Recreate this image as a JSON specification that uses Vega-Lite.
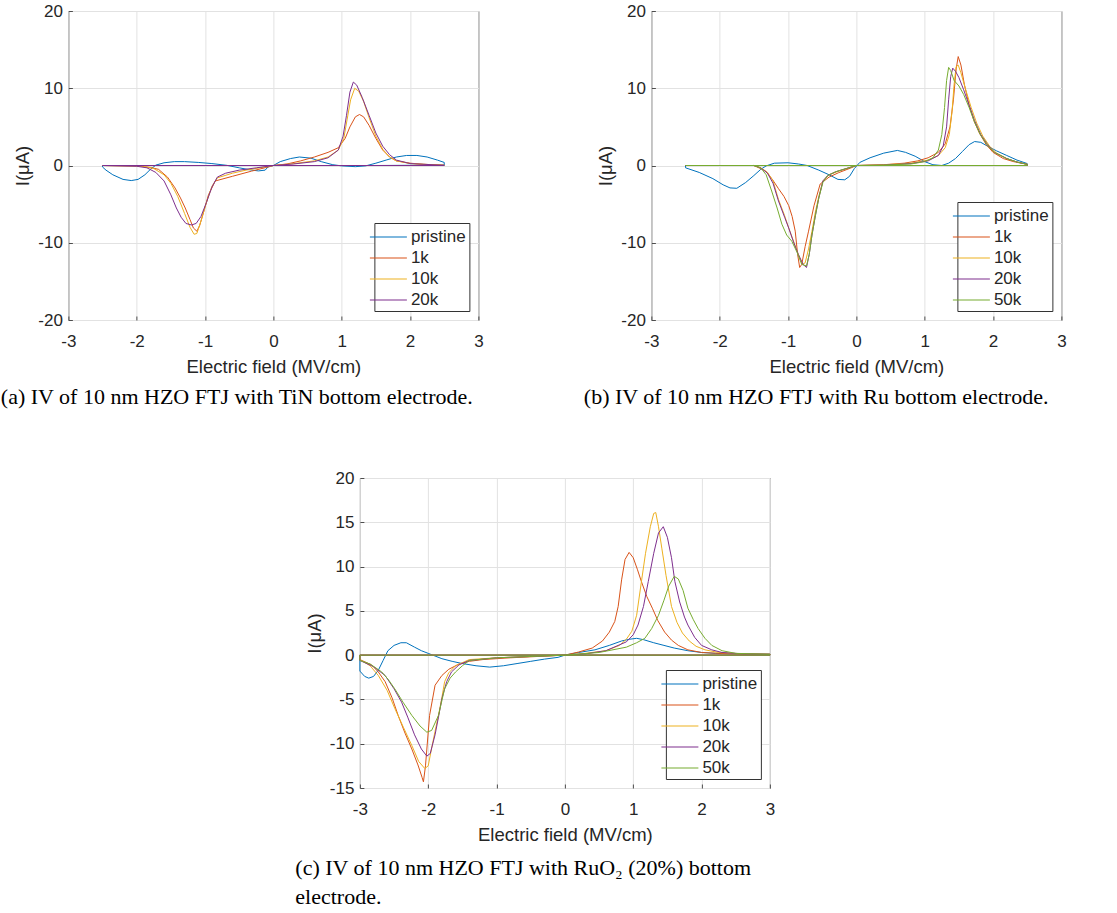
{
  "$schema": "https://vega.github.io/schema/vega-lite/v6.json",
  "background": "white",
  "padding": {"left": 0, "top": 1, "right": 0, "bottom": 0},
  "config": {
    "font": "Liberation Sans",
    "view": {"stroke": "#4d4d4d", "strokeWidth": 1},
    "axis": {
      "labelFont": "Liberation Sans", "labelFontSize": 17, "labelColor": "#262626",
      "titleFont": "Liberation Sans", "titleFontSize": 18.5, "titleFontWeight": "normal", "titleColor": "#262626",
      "gridColor": "#e2e2e2", "gridWidth": 1, "domain": false,
      "tickColor": "#4d4d4d", "tickSize": -4, "labelFlush": false, "labelOverlap": false,
      "labelExpr": "toString(datum.value)"
    },
    "axisX": {"labelPadding": 17, "titlePadding": 8},
    "axisY": {"labelPadding": 10, "titlePadding": 5},
    "legend": {
      "orient": "bottom-right", "offset": 9, "symbolType": "M-1.85,0H1.85", "symbolSize": 400,
      "symbolStrokeWidth": 1.2, "labelFont": "Liberation Sans", "labelFontSize": 17, "labelColor": "#262626",
      "strokeColor": "#333333", "fillColor": "white", "padding": 3, "rowPadding": 2, "labelOffset": 11.5
    },
    "title": {"font": "Liberation Serif", "fontSize": 22, "fontWeight": "normal", "color": "#000000",
      "orient": "bottom", "anchor": "start", "frame": "bounds", "offset": 11, "dx": -13, "lineHeight": 29}
  },
  "datasets": {
    "a": [
      {"s":"pristine","x":-2.5,"y":-0.2},{"s":"pristine","x":-2.45,"y":-0.6},{"s":"pristine","x":-2.35,"y":-1.2},{"s":"pristine","x":-2.2,"y":-1.8},{"s":"pristine","x":-2.08,"y":-1.95},{"s":"pristine","x":-1.98,"y":-1.8},{"s":"pristine","x":-1.88,"y":-1.2},{"s":"pristine","x":-1.8,"y":-0.5},{"s":"pristine","x":-1.72,"y":0.05},{"s":"pristine","x":-1.6,"y":0.35},{"s":"pristine","x":-1.45,"y":0.5},{"s":"pristine","x":-1.3,"y":0.5},{"s":"pristine","x":-1.1,"y":0.4},{"s":"pristine","x":-0.9,"y":0.25},{"s":"pristine","x":-0.68,"y":0.02},{"s":"pristine","x":-0.5,"y":-0.3},{"s":"pristine","x":-0.35,"y":-0.55},{"s":"pristine","x":-0.22,"y":-0.7},{"s":"pristine","x":-0.12,"y":-0.6},{"s":"pristine","x":-0.08,"y":-0.2},{"s":"pristine","x":0,"y":0},{"s":"pristine","x":0.1,"y":0.5},{"s":"pristine","x":0.25,"y":0.9},{"s":"pristine","x":0.38,"y":1.1},{"s":"pristine","x":0.55,"y":0.95},{"s":"pristine","x":0.7,"y":0.5},{"s":"pristine","x":0.87,"y":0.1},{"s":"pristine","x":1.0,"y":-0.05},{"s":"pristine","x":1.2,"y":-0.15},{"s":"pristine","x":1.35,"y":-0.05},{"s":"pristine","x":1.5,"y":0.3},{"s":"pristine","x":1.65,"y":0.7},{"s":"pristine","x":1.8,"y":1.1},{"s":"pristine","x":1.95,"y":1.3},{"s":"pristine","x":2.1,"y":1.3},{"s":"pristine","x":2.25,"y":1.1},{"s":"pristine","x":2.4,"y":0.7},{"s":"pristine","x":2.5,"y":0.4},{"s":"pristine","x":2.5,"y":0.05},{"s":"pristine","x":1.5,"y":0},{"s":"pristine","x":0,"y":0},{"s":"pristine","x":-2.5,"y":0},{"s":"pristine","x":-2.5,"y":-0.2},

      {"s":"1k","x":0,"y":0},{"s":"1k","x":0.2,"y":0.2},{"s":"1k","x":0.4,"y":0.6},{"s":"1k","x":0.6,"y":1.1},{"s":"1k","x":0.8,"y":1.7},{"s":"1k","x":0.95,"y":2.3},{"s":"1k","x":1.05,"y":3.5},{"s":"1k","x":1.12,"y":5.0},{"s":"1k","x":1.2,"y":6.3},{"s":"1k","x":1.26,"y":6.6},{"s":"1k","x":1.32,"y":6.3},{"s":"1k","x":1.4,"y":5.2},{"s":"1k","x":1.5,"y":3.5},{"s":"1k","x":1.6,"y":2.0},{"s":"1k","x":1.7,"y":1.1},{"s":"1k","x":1.8,"y":0.6},{"s":"1k","x":2.0,"y":0.3},{"s":"1k","x":2.2,"y":0.15},{"s":"1k","x":2.5,"y":0.05},{"s":"1k","x":2.5,"y":0},{"s":"1k","x":-2.5,"y":0},{"s":"1k","x":-2.0,"y":-0.05},{"s":"1k","x":-1.8,"y":-0.25},{"s":"1k","x":-1.68,"y":-0.5},{"s":"1k","x":-1.55,"y":-1.5},{"s":"1k","x":-1.44,"y":-2.9},{"s":"1k","x":-1.36,"y":-4.2},{"s":"1k","x":-1.29,"y":-5.5},{"s":"1k","x":-1.22,"y":-7.0},{"s":"1k","x":-1.17,"y":-8.1},{"s":"1k","x":-1.12,"y":-8.5},{"s":"1k","x":-1.08,"y":-7.8},{"s":"1k","x":-1.03,"y":-6.3},{"s":"1k","x":-0.95,"y":-3.8},{"s":"1k","x":-0.85,"y":-2.0},{"s":"1k","x":-0.6,"y":-1.4},{"s":"1k","x":-0.32,"y":-0.73},{"s":"1k","x":-0.07,"y":-0.17},{"s":"1k","x":0,"y":0},

      {"s":"10k","x":0,"y":0},{"s":"10k","x":0.3,"y":0.25},{"s":"10k","x":0.6,"y":0.6},{"s":"10k","x":0.8,"y":1.1},{"s":"10k","x":0.95,"y":2.0},{"s":"10k","x":1.03,"y":3.5},{"s":"10k","x":1.08,"y":6.0},{"s":"10k","x":1.13,"y":8.5},{"s":"10k","x":1.19,"y":10.0},{"s":"10k","x":1.25,"y":9.6},{"s":"10k","x":1.32,"y":8.3},{"s":"10k","x":1.4,"y":6.2},{"s":"10k","x":1.5,"y":3.8},{"s":"10k","x":1.6,"y":2.1},{"s":"10k","x":1.7,"y":1.1},{"s":"10k","x":1.8,"y":0.6},{"s":"10k","x":2.0,"y":0.25},{"s":"10k","x":2.5,"y":0.02},{"s":"10k","x":2.5,"y":0},{"s":"10k","x":-2.5,"y":0},{"s":"10k","x":-1.9,"y":-0.1},{"s":"10k","x":-1.75,"y":-0.4},{"s":"10k","x":-1.6,"y":-1.2},{"s":"10k","x":-1.5,"y":-2.3},{"s":"10k","x":-1.4,"y":-4.0},{"s":"10k","x":-1.3,"y":-6.2},{"s":"10k","x":-1.22,"y":-8.0},{"s":"10k","x":-1.16,"y":-8.9},{"s":"10k","x":-1.12,"y":-8.8},{"s":"10k","x":-1.06,"y":-7.2},{"s":"10k","x":-0.98,"y":-4.8},{"s":"10k","x":-0.9,"y":-2.7},{"s":"10k","x":-0.82,"y":-1.6},{"s":"10k","x":-0.6,"y":-1.0},{"s":"10k","x":-0.4,"y":-0.6},{"s":"10k","x":-0.2,"y":-0.3},{"s":"10k","x":0,"y":0},

      {"s":"20k","x":0,"y":0},{"s":"20k","x":0.3,"y":0.2},{"s":"20k","x":0.6,"y":0.5},{"s":"20k","x":0.8,"y":1.0},{"s":"20k","x":0.95,"y":2.0},{"s":"20k","x":1.02,"y":3.8},{"s":"20k","x":1.07,"y":6.5},{"s":"20k","x":1.12,"y":9.5},{"s":"20k","x":1.17,"y":10.8},{"s":"20k","x":1.22,"y":10.4},{"s":"20k","x":1.3,"y":8.8},{"s":"20k","x":1.4,"y":6.5},{"s":"20k","x":1.5,"y":4.2},{"s":"20k","x":1.6,"y":2.5},{"s":"20k","x":1.7,"y":1.4},{"s":"20k","x":1.8,"y":0.7},{"s":"20k","x":2.0,"y":0.25},{"s":"20k","x":2.5,"y":0.02},{"s":"20k","x":2.5,"y":0},{"s":"20k","x":-2.5,"y":0},{"s":"20k","x":-2.0,"y":-0.1},{"s":"20k","x":-1.85,"y":-0.3},{"s":"20k","x":-1.72,"y":-0.9},{"s":"20k","x":-1.6,"y":-2.0},{"s":"20k","x":-1.5,"y":-3.8},{"s":"20k","x":-1.42,"y":-5.5},{"s":"20k","x":-1.35,"y":-6.7},{"s":"20k","x":-1.28,"y":-7.5},{"s":"20k","x":-1.2,"y":-7.7},{"s":"20k","x":-1.13,"y":-7.5},{"s":"20k","x":-1.06,"y":-6.6},{"s":"20k","x":-0.98,"y":-4.8},{"s":"20k","x":-0.9,"y":-2.8},{"s":"20k","x":-0.82,"y":-1.5},{"s":"20k","x":-0.7,"y":-1.0},{"s":"20k","x":-0.5,"y":-0.6},{"s":"20k","x":-0.25,"y":-0.3},{"s":"20k","x":0,"y":0}
    ],
    "b": [
      {"s":"pristine","x":-2.5,"y":-0.3},{"s":"pristine","x":-2.3,"y":-0.9},{"s":"pristine","x":-2.1,"y":-1.7},{"s":"pristine","x":-1.95,"y":-2.5},{"s":"pristine","x":-1.85,"y":-2.9},{"s":"pristine","x":-1.75,"y":-2.95},{"s":"pristine","x":-1.62,"y":-2.2},{"s":"pristine","x":-1.5,"y":-1.3},{"s":"pristine","x":-1.4,"y":-0.5},{"s":"pristine","x":-1.32,"y":-0.05},{"s":"pristine","x":-1.2,"y":0.3},{"s":"pristine","x":-1.0,"y":0.35},{"s":"pristine","x":-0.85,"y":0.2},{"s":"pristine","x":-0.72,"y":0},{"s":"pristine","x":-0.55,"y":-0.6},{"s":"pristine","x":-0.4,"y":-1.2},{"s":"pristine","x":-0.27,"y":-1.8},{"s":"pristine","x":-0.17,"y":-1.85},{"s":"pristine","x":-0.1,"y":-1.4},{"s":"pristine","x":-0.03,"y":-0.4},{"s":"pristine","x":0.05,"y":0.4},{"s":"pristine","x":0.2,"y":1.0},{"s":"pristine","x":0.4,"y":1.6},{"s":"pristine","x":0.6,"y":1.95},{"s":"pristine","x":0.72,"y":1.7},{"s":"pristine","x":0.86,"y":1.2},{"s":"pristine","x":1.0,"y":0.5},{"s":"pristine","x":1.12,"y":0.1},{"s":"pristine","x":1.25,"y":0.0},{"s":"pristine","x":1.35,"y":0.3},{"s":"pristine","x":1.45,"y":0.9},{"s":"pristine","x":1.55,"y":1.8},{"s":"pristine","x":1.65,"y":2.7},{"s":"pristine","x":1.73,"y":3.1},{"s":"pristine","x":1.82,"y":3.0},{"s":"pristine","x":1.92,"y":2.5},{"s":"pristine","x":2.05,"y":1.9},{"s":"pristine","x":2.2,"y":1.3},{"s":"pristine","x":2.35,"y":0.7},{"s":"pristine","x":2.5,"y":0.25},{"s":"pristine","x":2.5,"y":0},{"s":"pristine","x":-2.5,"y":0},{"s":"pristine","x":-2.5,"y":-0.3},

      {"s":"1k","x":0,"y":0},{"s":"1k","x":0.4,"y":0.1},{"s":"1k","x":0.7,"y":0.3},{"s":"1k","x":0.9,"y":0.6},{"s":"1k","x":1.05,"y":1.0},{"s":"1k","x":1.2,"y":1.7},{"s":"1k","x":1.3,"y":2.8},{"s":"1k","x":1.37,"y":5.0},{"s":"1k","x":1.42,"y":8.5},{"s":"1k","x":1.46,"y":12.5},{"s":"1k","x":1.49,"y":14.1},{"s":"1k","x":1.53,"y":13.0},{"s":"1k","x":1.58,"y":10.5},{"s":"1k","x":1.65,"y":7.8},{"s":"1k","x":1.72,"y":5.8},{"s":"1k","x":1.8,"y":4.2},{"s":"1k","x":1.9,"y":2.7},{"s":"1k","x":2.0,"y":1.7},{"s":"1k","x":2.15,"y":0.9},{"s":"1k","x":2.3,"y":0.5},{"s":"1k","x":2.5,"y":0.15},{"s":"1k","x":2.5,"y":0},{"s":"1k","x":-2.5,"y":0},{"s":"1k","x":-1.5,"y":0},{"s":"1k","x":-1.33,"y":-0.7},{"s":"1k","x":-1.23,"y":-1.8},{"s":"1k","x":-1.14,"y":-3.0},{"s":"1k","x":-1.06,"y":-4.0},{"s":"1k","x":-0.99,"y":-5.2},{"s":"1k","x":-0.94,"y":-6.6},{"s":"1k","x":-0.895,"y":-8.5},{"s":"1k","x":-0.86,"y":-11.5},{"s":"1k","x":-0.83,"y":-13.2},{"s":"1k","x":-0.8,"y":-12.8},{"s":"1k","x":-0.75,"y":-10.5},{"s":"1k","x":-0.7,"y":-8.5},{"s":"1k","x":-0.62,"y":-5.2},{"s":"1k","x":-0.53,"y":-2.4},{"s":"1k","x":-0.4,"y":-1.5},{"s":"1k","x":-0.26,"y":-0.93},{"s":"1k","x":-0.07,"y":-0.28},{"s":"1k","x":0,"y":0},

      {"s":"10k","x":0,"y":0},{"s":"10k","x":0.4,"y":0.08},{"s":"10k","x":0.8,"y":0.3},{"s":"10k","x":1.05,"y":0.7},{"s":"10k","x":1.2,"y":1.3},{"s":"10k","x":1.3,"y":2.3},{"s":"10k","x":1.36,"y":4.0},{"s":"10k","x":1.4,"y":7.0},{"s":"10k","x":1.43,"y":10.5},{"s":"10k","x":1.46,"y":12.8},{"s":"10k","x":1.49,"y":13.0},{"s":"10k","x":1.53,"y":12.0},{"s":"10k","x":1.6,"y":9.8},{"s":"10k","x":1.68,"y":7.5},{"s":"10k","x":1.76,"y":5.5},{"s":"10k","x":1.85,"y":3.8},{"s":"10k","x":1.95,"y":2.5},{"s":"10k","x":2.05,"y":1.6},{"s":"10k","x":2.2,"y":0.9},{"s":"10k","x":2.35,"y":0.45},{"s":"10k","x":2.5,"y":0.15},{"s":"10k","x":2.5,"y":0},{"s":"10k","x":-2.5,"y":0},{"s":"10k","x":-1.5,"y":0},{"s":"10k","x":-1.4,"y":-0.3},{"s":"10k","x":-1.3,"y":-0.9},{"s":"10k","x":-1.22,"y":-2.0},{"s":"10k","x":-1.14,"y":-4.4},{"s":"10k","x":-1.05,"y":-6.5},{"s":"10k","x":-0.99,"y":-8.1},{"s":"10k","x":-0.92,"y":-9.8},{"s":"10k","x":-0.85,"y":-11.5},{"s":"10k","x":-0.79,"y":-12.8},{"s":"10k","x":-0.75,"y":-12.6},{"s":"10k","x":-0.7,"y":-10.8},{"s":"10k","x":-0.65,"y":-8.5},{"s":"10k","x":-0.6,"y":-6.0},{"s":"10k","x":-0.55,"y":-4.0},{"s":"10k","x":-0.49,"y":-2.0},{"s":"10k","x":-0.4,"y":-1.2},{"s":"10k","x":-0.25,"y":-0.7},{"s":"10k","x":0,"y":0},

      {"s":"20k","x":0,"y":0},{"s":"20k","x":0.4,"y":0.05},{"s":"20k","x":0.8,"y":0.25},{"s":"20k","x":1.05,"y":0.6},{"s":"20k","x":1.2,"y":1.3},{"s":"20k","x":1.27,"y":2.5},{"s":"20k","x":1.32,"y":5.0},{"s":"20k","x":1.35,"y":8.5},{"s":"20k","x":1.38,"y":11.5},{"s":"20k","x":1.41,"y":12.6},{"s":"20k","x":1.45,"y":12.2},{"s":"20k","x":1.5,"y":11.4},{"s":"20k","x":1.57,"y":9.8},{"s":"20k","x":1.65,"y":7.8},{"s":"20k","x":1.73,"y":5.8},{"s":"20k","x":1.82,"y":4.0},{"s":"20k","x":1.92,"y":2.7},{"s":"20k","x":2.02,"y":1.7},{"s":"20k","x":2.2,"y":0.9},{"s":"20k","x":2.35,"y":0.45},{"s":"20k","x":2.5,"y":0.15},{"s":"20k","x":2.5,"y":0},{"s":"20k","x":-2.5,"y":0},{"s":"20k","x":-1.5,"y":0},{"s":"20k","x":-1.4,"y":-0.3},{"s":"20k","x":-1.3,"y":-1.0},{"s":"20k","x":-1.22,"y":-2.3},{"s":"20k","x":-1.14,"y":-4.6},{"s":"20k","x":-1.05,"y":-6.7},{"s":"20k","x":-0.99,"y":-8.1},{"s":"20k","x":-0.92,"y":-9.9},{"s":"20k","x":-0.85,"y":-11.5},{"s":"20k","x":-0.78,"y":-12.8},{"s":"20k","x":-0.73,"y":-13.2},{"s":"20k","x":-0.69,"y":-11.5},{"s":"20k","x":-0.65,"y":-9.0},{"s":"20k","x":-0.6,"y":-6.5},{"s":"20k","x":-0.55,"y":-4.2},{"s":"20k","x":-0.49,"y":-2.0},{"s":"20k","x":-0.42,"y":-1.3},{"s":"20k","x":-0.3,"y":-0.8},{"s":"20k","x":-0.15,"y":-0.4},{"s":"20k","x":0,"y":0},

      {"s":"50k","x":0,"y":0},{"s":"50k","x":0.4,"y":0.05},{"s":"50k","x":0.8,"y":0.2},{"s":"50k","x":1.0,"y":0.5},{"s":"50k","x":1.12,"y":1.0},{"s":"50k","x":1.2,"y":2.0},{"s":"50k","x":1.25,"y":4.0},{"s":"50k","x":1.29,"y":7.5},{"s":"50k","x":1.32,"y":11.0},{"s":"50k","x":1.35,"y":12.7},{"s":"50k","x":1.38,"y":12.3},{"s":"50k","x":1.43,"y":11.0},{"s":"50k","x":1.5,"y":10.3},{"s":"50k","x":1.57,"y":9.2},{"s":"50k","x":1.65,"y":7.5},{"s":"50k","x":1.73,"y":5.6},{"s":"50k","x":1.82,"y":3.9},{"s":"50k","x":1.92,"y":2.6},{"s":"50k","x":2.02,"y":1.7},{"s":"50k","x":2.2,"y":0.9},{"s":"50k","x":2.35,"y":0.45},{"s":"50k","x":2.5,"y":0.15},{"s":"50k","x":2.5,"y":0},{"s":"50k","x":-2.5,"y":0},{"s":"50k","x":-1.5,"y":0},{"s":"50k","x":-1.4,"y":-0.3},{"s":"50k","x":-1.32,"y":-1.2},{"s":"50k","x":-1.24,"y":-3.3},{"s":"50k","x":-1.16,"y":-5.5},{"s":"50k","x":-1.09,"y":-7.6},{"s":"50k","x":-1.02,"y":-9.0},{"s":"50k","x":-0.945,"y":-9.8},{"s":"50k","x":-0.87,"y":-11.2},{"s":"50k","x":-0.8,"y":-12.8},{"s":"50k","x":-0.73,"y":-13.0},{"s":"50k","x":-0.69,"y":-11.5},{"s":"50k","x":-0.65,"y":-9.0},{"s":"50k","x":-0.6,"y":-6.5},{"s":"50k","x":-0.55,"y":-4.2},{"s":"50k","x":-0.49,"y":-2.2},{"s":"50k","x":-0.42,"y":-1.3},{"s":"50k","x":-0.3,"y":-0.8},{"s":"50k","x":-0.15,"y":-0.4},{"s":"50k","x":0,"y":0}
    ],
    "c": [
      {"s":"pristine","x":-3.0,"y":-1.8},{"s":"pristine","x":-2.93,"y":-2.4},{"s":"pristine","x":-2.87,"y":-2.6},{"s":"pristine","x":-2.8,"y":-2.4},{"s":"pristine","x":-2.73,"y":-1.7},{"s":"pristine","x":-2.66,"y":-0.6},{"s":"pristine","x":-2.59,"y":0.5},{"s":"pristine","x":-2.5,"y":1.1},{"s":"pristine","x":-2.4,"y":1.4},{"s":"pristine","x":-2.32,"y":1.4},{"s":"pristine","x":-2.2,"y":0.9},{"s":"pristine","x":-2.1,"y":0.5},{"s":"pristine","x":-2.0,"y":0.2},{"s":"pristine","x":-1.9,"y":-0.1},{"s":"pristine","x":-1.8,"y":-0.4},{"s":"pristine","x":-1.65,"y":-0.7},{"s":"pristine","x":-1.5,"y":-0.95},{"s":"pristine","x":-1.3,"y":-1.2},{"s":"pristine","x":-1.1,"y":-1.35},{"s":"pristine","x":-0.9,"y":-1.2},{"s":"pristine","x":-0.7,"y":-0.95},{"s":"pristine","x":-0.5,"y":-0.7},{"s":"pristine","x":-0.3,"y":-0.45},{"s":"pristine","x":-0.1,"y":-0.25},{"s":"pristine","x":0,"y":0},{"s":"pristine","x":0.2,"y":0.3},{"s":"pristine","x":0.44,"y":0.6},{"s":"pristine","x":0.65,"y":1.1},{"s":"pristine","x":0.83,"y":1.6},{"s":"pristine","x":0.95,"y":1.8},{"s":"pristine","x":1.05,"y":1.9},{"s":"pristine","x":1.15,"y":1.75},{"s":"pristine","x":1.3,"y":1.4},{"s":"pristine","x":1.45,"y":1.1},{"s":"pristine","x":1.6,"y":0.8},{"s":"pristine","x":1.8,"y":0.5},{"s":"pristine","x":2.0,"y":0.3},{"s":"pristine","x":2.2,"y":0.2},{"s":"pristine","x":2.6,"y":0.1},{"s":"pristine","x":3.0,"y":0.1},{"s":"pristine","x":3.0,"y":0},{"s":"pristine","x":-3.0,"y":0},{"s":"pristine","x":-3.0,"y":-1.8},

      {"s":"1k","x":0,"y":0},{"s":"1k","x":0.2,"y":0.35},{"s":"1k","x":0.4,"y":0.8},{"s":"1k","x":0.55,"y":1.6},{"s":"1k","x":0.65,"y":2.6},{"s":"1k","x":0.73,"y":3.8},{"s":"1k","x":0.78,"y":5.5},{"s":"1k","x":0.83,"y":8.5},{"s":"1k","x":0.88,"y":10.8},{"s":"1k","x":0.94,"y":11.6},{"s":"1k","x":1.0,"y":11.0},{"s":"1k","x":1.06,"y":9.7},{"s":"1k","x":1.12,"y":8.3},{"s":"1k","x":1.2,"y":6.6},{"s":"1k","x":1.28,"y":5.3},{"s":"1k","x":1.36,"y":3.9},{"s":"1k","x":1.46,"y":2.6},{"s":"1k","x":1.56,"y":1.7},{"s":"1k","x":1.66,"y":1.1},{"s":"1k","x":1.8,"y":0.6},{"s":"1k","x":2.0,"y":0.3},{"s":"1k","x":2.4,"y":0.15},{"s":"1k","x":3.0,"y":0.1},{"s":"1k","x":3.0,"y":0},{"s":"1k","x":-3.0,"y":0},{"s":"1k","x":-3.0,"y":-0.5},{"s":"1k","x":-2.83,"y":-1.1},{"s":"1k","x":-2.73,"y":-1.9},{"s":"1k","x":-2.63,"y":-3.0},{"s":"1k","x":-2.53,"y":-4.8},{"s":"1k","x":-2.44,"y":-6.8},{"s":"1k","x":-2.34,"y":-8.8},{"s":"1k","x":-2.24,"y":-10.6},{"s":"1k","x":-2.15,"y":-12.4},{"s":"1k","x":-2.09,"y":-13.8},{"s":"1k","x":-2.07,"y":-14.3},{"s":"1k","x":-2.04,"y":-12.5},{"s":"1k","x":-2.02,"y":-10.6},{"s":"1k","x":-1.98,"y":-6.8},{"s":"1k","x":-1.9,"y":-3.4},{"s":"1k","x":-1.8,"y":-2.3},{"s":"1k","x":-1.7,"y":-1.6},{"s":"1k","x":-1.55,"y":-1.0},{"s":"1k","x":-1.4,"y":-0.7},{"s":"1k","x":-1.2,"y":-0.5},{"s":"1k","x":-0.8,"y":-0.3},{"s":"1k","x":-0.4,"y":-0.15},{"s":"1k","x":0,"y":0},

      {"s":"10k","x":0,"y":0},{"s":"10k","x":0.3,"y":0.2},{"s":"10k","x":0.6,"y":0.5},{"s":"10k","x":0.8,"y":1.1},{"s":"10k","x":0.9,"y":1.8},{"s":"10k","x":0.98,"y":2.7},{"s":"10k","x":1.05,"y":4.5},{"s":"10k","x":1.12,"y":8.3},{"s":"10k","x":1.18,"y":11.5},{"s":"10k","x":1.25,"y":14.5},{"s":"10k","x":1.3,"y":16.0},{"s":"10k","x":1.33,"y":16.1},{"s":"10k","x":1.37,"y":14.5},{"s":"10k","x":1.42,"y":12.0},{"s":"10k","x":1.48,"y":9.0},{"s":"10k","x":1.56,"y":5.5},{"s":"10k","x":1.64,"y":3.7},{"s":"10k","x":1.72,"y":2.5},{"s":"10k","x":1.82,"y":1.6},{"s":"10k","x":1.92,"y":1.0},{"s":"10k","x":2.05,"y":0.6},{"s":"10k","x":2.25,"y":0.3},{"s":"10k","x":2.6,"y":0.15},{"s":"10k","x":3.0,"y":0.1},{"s":"10k","x":3.0,"y":0},{"s":"10k","x":-3.0,"y":0},{"s":"10k","x":-3.0,"y":-0.5},{"s":"10k","x":-2.85,"y":-1.2},{"s":"10k","x":-2.73,"y":-2.3},{"s":"10k","x":-2.6,"y":-4.0},{"s":"10k","x":-2.49,"y":-6.0},{"s":"10k","x":-2.36,"y":-8.2},{"s":"10k","x":-2.24,"y":-10.2},{"s":"10k","x":-2.14,"y":-12.0},{"s":"10k","x":-2.05,"y":-12.8},{"s":"10k","x":-2.0,"y":-12.5},{"s":"10k","x":-1.95,"y":-10.5},{"s":"10k","x":-1.9,"y":-8.6},{"s":"10k","x":-1.85,"y":-6.8},{"s":"10k","x":-1.8,"y":-4.8},{"s":"10k","x":-1.76,"y":-3.0},{"s":"10k","x":-1.7,"y":-2.0},{"s":"10k","x":-1.6,"y":-1.2},{"s":"10k","x":-1.4,"y":-0.5},{"s":"10k","x":-1.0,"y":-0.3},{"s":"10k","x":-0.5,"y":-0.15},{"s":"10k","x":0,"y":0},

      {"s":"20k","x":0,"y":0},{"s":"20k","x":0.3,"y":0.15},{"s":"20k","x":0.6,"y":0.5},{"s":"20k","x":0.9,"y":1.5},{"s":"20k","x":1.0,"y":2.3},{"s":"20k","x":1.07,"y":3.4},{"s":"20k","x":1.15,"y":5.5},{"s":"20k","x":1.22,"y":8.3},{"s":"20k","x":1.3,"y":11.5},{"s":"20k","x":1.37,"y":13.8},{"s":"20k","x":1.44,"y":14.5},{"s":"20k","x":1.5,"y":13.3},{"s":"20k","x":1.56,"y":11.0},{"s":"20k","x":1.61,"y":8.3},{"s":"20k","x":1.68,"y":6.0},{"s":"20k","x":1.75,"y":4.3},{"s":"20k","x":1.8,"y":3.4},{"s":"20k","x":1.9,"y":2.0},{"s":"20k","x":2.0,"y":1.1},{"s":"20k","x":2.15,"y":0.6},{"s":"20k","x":2.3,"y":0.3},{"s":"20k","x":2.6,"y":0.15},{"s":"20k","x":3.0,"y":0.1},{"s":"20k","x":3.0,"y":0},{"s":"20k","x":-3.0,"y":0},{"s":"20k","x":-3.0,"y":-0.6},{"s":"20k","x":-2.8,"y":-1.3},{"s":"20k","x":-2.63,"y":-2.3},{"s":"20k","x":-2.5,"y":-3.8},{"s":"20k","x":-2.39,"y":-5.3},{"s":"20k","x":-2.3,"y":-7.0},{"s":"20k","x":-2.2,"y":-9.0},{"s":"20k","x":-2.1,"y":-10.6},{"s":"20k","x":-2.02,"y":-11.4},{"s":"20k","x":-1.97,"y":-11.1},{"s":"20k","x":-1.9,"y":-9.0},{"s":"20k","x":-1.85,"y":-7.0},{"s":"20k","x":-1.8,"y":-4.9},{"s":"20k","x":-1.73,"y":-3.0},{"s":"20k","x":-1.66,"y":-1.9},{"s":"20k","x":-1.55,"y":-1.1},{"s":"20k","x":-1.4,"y":-0.6},{"s":"20k","x":-1.0,"y":-0.3},{"s":"20k","x":-0.5,"y":-0.15},{"s":"20k","x":0,"y":0},

      {"s":"50k","x":0,"y":0},{"s":"50k","x":0.5,"y":0.3},{"s":"50k","x":0.9,"y":0.9},{"s":"50k","x":1.05,"y":1.4},{"s":"50k","x":1.17,"y":1.9},{"s":"50k","x":1.27,"y":3.0},{"s":"50k","x":1.37,"y":4.5},{"s":"50k","x":1.45,"y":6.2},{"s":"50k","x":1.52,"y":7.8},{"s":"50k","x":1.6,"y":8.9},{"s":"50k","x":1.66,"y":8.6},{"s":"50k","x":1.73,"y":7.3},{"s":"50k","x":1.8,"y":5.3},{"s":"50k","x":1.88,"y":4.0},{"s":"50k","x":1.95,"y":3.0},{"s":"50k","x":2.05,"y":1.9},{"s":"50k","x":2.15,"y":1.1},{"s":"50k","x":2.3,"y":0.5},{"s":"50k","x":2.5,"y":0.2},{"s":"50k","x":3.0,"y":0.1},{"s":"50k","x":3.0,"y":0},{"s":"50k","x":-3.0,"y":0},{"s":"50k","x":-3.0,"y":-0.6},{"s":"50k","x":-2.85,"y":-1.0},{"s":"50k","x":-2.68,"y":-1.9},{"s":"50k","x":-2.58,"y":-2.8},{"s":"50k","x":-2.49,"y":-3.8},{"s":"50k","x":-2.37,"y":-5.3},{"s":"50k","x":-2.24,"y":-6.8},{"s":"50k","x":-2.12,"y":-8.0},{"s":"50k","x":-2.02,"y":-8.7},{"s":"50k","x":-1.95,"y":-8.5},{"s":"50k","x":-1.85,"y":-6.8},{"s":"50k","x":-1.76,"y":-3.8},{"s":"50k","x":-1.68,"y":-2.6},{"s":"50k","x":-1.6,"y":-1.9},{"s":"50k","x":-1.5,"y":-1.2},{"s":"50k","x":-1.4,"y":-0.6},{"s":"50k","x":-1.0,"y":-0.3},{"s":"50k","x":-0.5,"y":-0.15},{"s":"50k","x":0,"y":0}
    ]
  },
  "vconcat": [
    {
      "hconcat": [
        {
          "width": 410, "height": 309,
          "data": {"name": "a"},
          "title": {"text": "(a) IV of 10 nm HZO FTJ with TiN bottom electrode."},
          "mark": {"type": "line", "strokeWidth": 1},
          "encoding": {
            "x": {"field": "x", "type": "quantitative", "scale": {"domain": [-3, 3], "nice": false}, "axis": {"title": "Electric field (MV/cm)", "values": [-3, -2, -1, 0, 1, 2, 3]}},
            "y": {"field": "y", "type": "quantitative", "scale": {"domain": [-20, 20], "nice": false}, "axis": {"title": "I(μA)", "values": [-20, -10, 0, 10, 20]}},
            "color": {"field": "s", "type": "nominal", "scale": {"domain": ["pristine", "1k", "10k", "20k"], "range": ["#0072BD", "#D95319", "#EDB120", "#7E2F8E"]},
              "legend": {"title": null, "encode": {"symbols": {"update": {"stroke": {"signal": "datum.value==='pristine'?'#0072BD':datum.value==='1k'?'#D95319':datum.value==='10k'?'#EDB120':datum.value==='20k'?'#7E2F8E':'#77AC30'"}, "strokeWidth": {"value": 1.2}}}}}},
            "order": {"value": null}
          }
        },
        {
          "width": 410, "height": 309,
          "data": {"name": "b"},
          "title": {"text": "(b) IV of 10 nm HZO FTJ with Ru bottom electrode."},
          "mark": {"type": "line", "strokeWidth": 1},
          "encoding": {
            "x": {"field": "x", "type": "quantitative", "scale": {"domain": [-3, 3], "nice": false}, "axis": {"title": "Electric field (MV/cm)", "values": [-3, -2, -1, 0, 1, 2, 3]}},
            "y": {"field": "y", "type": "quantitative", "scale": {"domain": [-20, 20], "nice": false}, "axis": {"title": "I(μA)", "values": [-20, -10, 0, 10, 20]}},
            "color": {"field": "s", "type": "nominal", "scale": {"domain": ["pristine", "1k", "10k", "20k", "50k"], "range": ["#0072BD", "#D95319", "#EDB120", "#7E2F8E", "#77AC30"]},
              "legend": {"title": null, "encode": {"symbols": {"update": {"stroke": {"signal": "datum.value==='pristine'?'#0072BD':datum.value==='1k'?'#D95319':datum.value==='10k'?'#EDB120':datum.value==='20k'?'#7E2F8E':'#77AC30'"}, "strokeWidth": {"value": 1.2}}}}}},
            "order": {"value": null}
          }
        }
      ],
      "spacing": 98,
      "resolve": {"scale": {"color": "independent"}}
    },
    {
      "width": 410, "height": 310,
      "data": {"name": "c"},
      "title": {"text": ["(c) IV of 10 nm HZO FTJ with RuO₂ (20%) bottom", "electrode."], "dx": -10, "offset": 14},
      "mark": {"type": "line", "strokeWidth": 1},
      "encoding": {
        "x": {"field": "x", "type": "quantitative", "scale": {"domain": [-3, 3], "nice": false}, "axis": {"title": "Electric field (MV/cm)", "values": [-3, -2, -1, 0, 1, 2, 3]}},
        "y": {"field": "y", "type": "quantitative", "scale": {"domain": [-15, 20], "nice": false}, "axis": {"title": "I(μA)", "values": [-15, -10, -5, 0, 5, 10, 15, 20]}},
        "color": {"field": "s", "type": "nominal", "scale": {"domain": ["pristine", "1k", "10k", "20k", "50k"], "range": ["#0072BD", "#D95319", "#EDB120", "#7E2F8E", "#77AC30"]},
          "legend": {"title": null, "encode": {"symbols": {"update": {"stroke": {"signal": "datum.value==='pristine'?'#0072BD':datum.value==='1k'?'#D95319':datum.value==='10k'?'#EDB120':datum.value==='20k'?'#7E2F8E':'#77AC30'"}, "strokeWidth": {"value": 1.2}}}}}},
        "order": {"value": null}
      }
    }
  ],
  "spacing": 60,
  "center": true,
  "resolve": {"scale": {"color": "independent"}}
}
